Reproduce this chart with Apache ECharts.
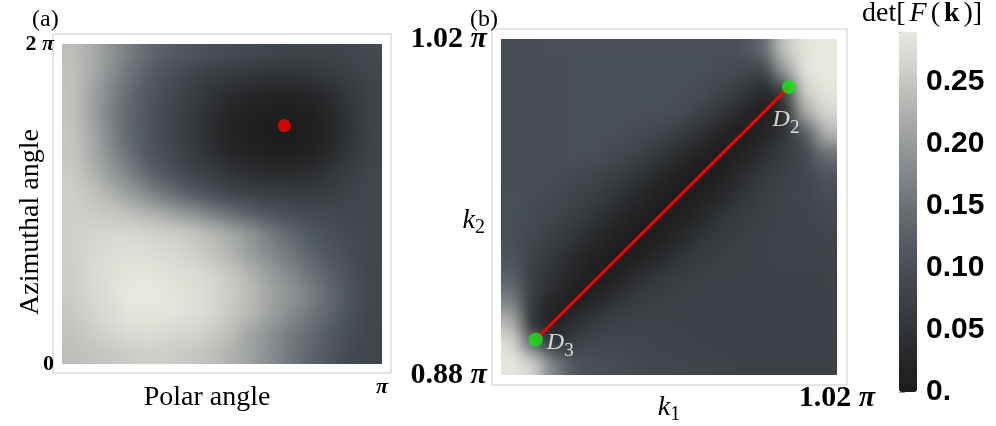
<!DOCTYPE html>
<html>
<head>
<meta charset="utf-8">
<script src="https://cdn.jsdelivr.net/npm/echarts@6/dist/echarts.min.js"></script>
<style>
  html, body { margin: 0; padding: 0; background: #fff; }
  #wrap { position: relative; width: 996px; height: 426px; }
  #maps, #marks { position: absolute; left: 0; top: 0; width: 996px; height: 426px; }
  /* the density maps are smoothed like the original raster plots, then cut to their frames */
  #maps {
    filter: url(#smooth);
    clip-path: path('M62 44 H382 V364 H62 Z M501 39 H837 V375 H501 Z');
  }
</style>
</head>
<body>
<svg width="0" height="0" style="position:absolute">
  <filter id="smooth" x="0" y="0" width="1" height="1" color-interpolation-filters="sRGB">
    <feGaussianBlur stdDeviation="8"/>
    <feComponentTransfer>
      <feFuncA type="table" tableValues="0 1 1 1 1 1 1 1 1 1 1 1 1 1 1 1 1 1 1 1"/>
    </feComponentTransfer>
  </filter>
</svg>
<div id="wrap">
  <div id="maps"></div>
  <div id="marks"></div>
</div>
<script>
// bin centres, in units of pi
var polarBins = [0.03, 0.09, 0.16, 0.22, 0.28, 0.34, 0.41, 0.47, 0.53, 0.59, 0.66, 0.72, 0.78, 0.84, 0.91, 0.97];
var azimuthBins = [0.06, 0.19, 0.31, 0.44, 0.56, 0.69, 0.81, 0.94, 1.06, 1.19, 1.31, 1.44, 1.56, 1.69, 1.81, 1.94];
var kBins = [0.884, 0.893, 0.902, 0.911, 0.919, 0.928, 0.937, 0.946, 0.954, 0.963, 0.972, 0.981, 0.989, 0.998, 1.007, 1.016];

// det[F(k)] of panel (a); first row is azimuth = 2 pi
var detSphere = [
  [0.24, 0.22, 0.19, 0.16, 0.135, 0.12, 0.11, 0.10, 0.095, 0.09, 0.085, 0.08, 0.08, 0.08, 0.085, 0.09],
  [0.245, 0.22, 0.18, 0.15, 0.12, 0.10, 0.085, 0.07, 0.06, 0.055, 0.05, 0.05, 0.055, 0.065, 0.075, 0.085],
  [0.245, 0.21, 0.17, 0.135, 0.11, 0.09, 0.07, 0.05, 0.035, 0.025, 0.02, 0.02, 0.025, 0.04, 0.06, 0.08],
  [0.245, 0.21, 0.165, 0.13, 0.105, 0.085, 0.06, 0.04, 0.02, 0.01, 0.005, 0.005, 0.01, 0.03, 0.055, 0.08],
  [0.25, 0.215, 0.17, 0.13, 0.105, 0.085, 0.06, 0.035, 0.015, 0.005, 0.0, 0.0, 0.005, 0.025, 0.05, 0.08],
  [0.25, 0.22, 0.18, 0.14, 0.11, 0.09, 0.065, 0.045, 0.025, 0.015, 0.01, 0.01, 0.015, 0.035, 0.06, 0.08],
  [0.255, 0.23, 0.2, 0.165, 0.13, 0.105, 0.085, 0.07, 0.05, 0.04, 0.035, 0.035, 0.04, 0.055, 0.07, 0.085],
  [0.26, 0.245, 0.225, 0.2, 0.17, 0.145, 0.12, 0.1, 0.085, 0.075, 0.07, 0.065, 0.065, 0.07, 0.08, 0.085],
  [0.26, 0.255, 0.25, 0.24, 0.225, 0.21, 0.19, 0.165, 0.145, 0.125, 0.11, 0.1, 0.09, 0.088, 0.085, 0.085],
  [0.26, 0.265, 0.27, 0.27, 0.265, 0.26, 0.25, 0.235, 0.215, 0.19, 0.16, 0.135, 0.115, 0.1, 0.09, 0.085],
  [0.26, 0.27, 0.275, 0.28, 0.275, 0.27, 0.26, 0.245, 0.225, 0.2, 0.175, 0.155, 0.13, 0.11, 0.095, 0.085],
  [0.255, 0.27, 0.28, 0.285, 0.285, 0.28, 0.275, 0.265, 0.25, 0.225, 0.2, 0.175, 0.15, 0.125, 0.1, 0.085],
  [0.255, 0.27, 0.28, 0.29, 0.29, 0.285, 0.28, 0.27, 0.255, 0.235, 0.21, 0.19, 0.165, 0.135, 0.105, 0.085],
  [0.25, 0.265, 0.275, 0.285, 0.285, 0.285, 0.28, 0.27, 0.25, 0.23, 0.205, 0.18, 0.155, 0.13, 0.1, 0.085],
  [0.245, 0.255, 0.265, 0.275, 0.275, 0.27, 0.265, 0.255, 0.235, 0.21, 0.185, 0.16, 0.14, 0.115, 0.095, 0.08],
  [0.24, 0.245, 0.25, 0.255, 0.26, 0.255, 0.25, 0.24, 0.225, 0.205, 0.18, 0.155, 0.13, 0.11, 0.09, 0.08]
];

// det[F(k)] of panel (b); first row is k2 = 1.02 pi
var detPlane = [
  [0.095, 0.097, 0.1, 0.1, 0.1, 0.1, 0.1, 0.1, 0.1, 0.1, 0.1, 0.105, 0.14, 0.25, 0.285, 0.29],
  [0.095, 0.097, 0.098, 0.1, 0.1, 0.1, 0.1, 0.1, 0.1, 0.1, 0.098, 0.09, 0.08, 0.2, 0.285, 0.29],
  [0.095, 0.097, 0.098, 0.1, 0.1, 0.1, 0.1, 0.1, 0.1, 0.095, 0.082, 0.06, 0.03, 0.07, 0.26, 0.285],
  [0.095, 0.097, 0.098, 0.1, 0.1, 0.1, 0.1, 0.1, 0.095, 0.078, 0.055, 0.028, 0.005, 0.035, 0.22, 0.27],
  [0.095, 0.097, 0.098, 0.1, 0.1, 0.1, 0.093, 0.085, 0.068, 0.045, 0.02, 0.003, 0.02, 0.05, 0.12, 0.23],
  [0.095, 0.097, 0.098, 0.1, 0.1, 0.09, 0.078, 0.06, 0.035, 0.015, 0.0, 0.015, 0.04, 0.068, 0.09, 0.15],
  [0.095, 0.097, 0.098, 0.09, 0.082, 0.07, 0.052, 0.03, 0.012, 0.0, 0.012, 0.035, 0.06, 0.075, 0.085, 0.11],
  [0.1, 0.095, 0.09, 0.08, 0.068, 0.05, 0.03, 0.012, 0.0, 0.012, 0.03, 0.052, 0.07, 0.08, 0.082, 0.095],
  [0.1, 0.093, 0.082, 0.068, 0.05, 0.03, 0.012, 0.0, 0.012, 0.03, 0.05, 0.065, 0.075, 0.078, 0.08, 0.088],
  [0.1, 0.088, 0.07, 0.05, 0.03, 0.012, 0.0, 0.012, 0.03, 0.05, 0.065, 0.073, 0.077, 0.078, 0.079, 0.082],
  [0.11, 0.075, 0.055, 0.032, 0.012, 0.0, 0.012, 0.032, 0.052, 0.065, 0.072, 0.076, 0.077, 0.078, 0.078, 0.078],
  [0.13, 0.07, 0.045, 0.018, 0.002, 0.018, 0.045, 0.06, 0.07, 0.075, 0.076, 0.077, 0.077, 0.077, 0.077, 0.077],
  [0.17, 0.06, 0.025, 0.003, 0.025, 0.05, 0.065, 0.072, 0.075, 0.076, 0.076, 0.076, 0.076, 0.076, 0.076, 0.076],
  [0.23, 0.045, 0.01, 0.04, 0.065, 0.075, 0.078, 0.078, 0.077, 0.076, 0.076, 0.076, 0.076, 0.076, 0.076, 0.076],
  [0.275, 0.14, 0.05, 0.075, 0.085, 0.085, 0.082, 0.08, 0.078, 0.077, 0.076, 0.075, 0.075, 0.075, 0.075, 0.075],
  [0.29, 0.265, 0.17, 0.11, 0.1, 0.095, 0.09, 0.085, 0.082, 0.08, 0.078, 0.077, 0.076, 0.075, 0.075, 0.075]
];

// marked points, in units of pi
var minimumPoint = [0.695, 1.49];
var diracPoints = [
  { name: 'D3', k: [0.8945, 0.8948] },
  { name: 'D2', k: [1.0, 1.0] }
];

var grayTones = ['#1c1c1c', '#27282a', '#35393d', '#42474e', '#525860', '#676e73',
  '#80868a', '#999d9c', '#b5b7b3', '#d0d1cb', '#e8e8e0'];

var SERIF = 'Liberation Serif';
// image areas of the two panels; whole-pixel cells (20 and 21 px)
var rectA = { left: 62, top: 44, width: 320, height: 320, outerBoundsMode: 'none' };
var rectB = { left: 501, top: 39, width: 336, height: 336, outerBoundsMode: 'none' };

function toCells(rows) {
  var n = rows.length;
  var out = [];
  rows.forEach(function(row, r) {
    row.forEach(function(v, i) {
      out.push([i, n - 1 - r, v]);
    });
  });
  return out;
}

function piLabel(size) {
  return {
    n: { fontFamily: SERIF, fontWeight: 'bold', fontSize: size, color: '#000' },
    p: { fontFamily: SERIF, fontWeight: 'bold', fontStyle: 'italic', fontSize: size, color: '#000' }
  };
}

function subRich(size, sub, lh) {
  return {
    k: { fontFamily: SERIF, fontStyle: 'italic', fontSize: size, lineHeight: lh, color: '#000' },
    s: { fontFamily: SERIF, fontSize: sub, lineHeight: sub, verticalAlign: 'bottom', color: '#000' }
  };
}

function heatmap(xi, yi, rows) {
  return {
    type: 'heatmap', xAxisIndex: xi, yAxisIndex: yi,
    data: rows ? toCells(rows) : [],
    emphasis: { disabled: true }, silent: true
  };
}

var scale = {
  type: 'continuous', min: 0, max: 0.29, seriesIndex: [0, 1],
  inRange: { color: grayTones }
};

var hidden = { show: false };

// layer 1: the two density maps (smoothed by the css filter above)
var mapChart = echarts.init(document.getElementById('maps'));
mapChart.setOption({
  animation: false,
  grid: [rectA, rectB],
  xAxis: [
    { gridIndex: 0, type: 'category', data: polarBins.map(String), show: false },
    { gridIndex: 1, type: 'category', data: kBins.map(String), show: false }
  ],
  yAxis: [
    { gridIndex: 0, type: 'category', data: azimuthBins.map(String), show: false },
    { gridIndex: 1, type: 'category', data: kBins.map(String), show: false }
  ],
  visualMap: Object.assign({ show: false }, scale),
  series: [heatmap(0, 0, detSphere), heatmap(1, 1, detPlane)]
});

// layer 2: frames, axes, labels, markers and the colour bar
var chart = echarts.init(document.getElementById('marks'));
chart.setOption({
  animation: false,
  grid: [
    { left: 53, top: 34, width: 338, height: 339, show: true, borderColor: '#c8c8c8', borderWidth: 1, outerBoundsMode: 'none' },
    rectA,
    { left: 492, top: 29, width: 355, height: 356, show: true, borderColor: '#c8c8c8', borderWidth: 1, outerBoundsMode: 'none' },
    rectB,
    { left: 899, top: 32, width: 18, height: 360, outerBoundsMode: 'none' }
  ],
  xAxis: [
    { gridIndex: 0, type: 'value', show: false },
    { gridIndex: 1, type: 'category', data: polarBins.map(String), show: false },
    {
      gridIndex: 1, type: 'value', min: 0, max: 1, position: 'bottom',
      axisLine: hidden, axisTick: hidden, splitLine: hidden,
      axisLabel: {
        customValues: [1], margin: 12, rich: piLabel(22),
        formatter: function() { return '{p|π}'; }
      },
      name: 'Polar angle', nameLocation: 'middle', nameGap: 20, nameMoveOverlap: false,
      nameTextStyle: { fontFamily: SERIF, fontSize: 28, color: '#000', padding: [0, 30, 0, 0] }
    },
    { gridIndex: 2, type: 'value', show: false },
    { gridIndex: 3, type: 'category', data: kBins.map(String), show: false },
    {
      gridIndex: 3, type: 'value', min: 0.88, max: 1.02, position: 'bottom',
      axisLine: hidden, axisTick: hidden, splitLine: hidden,
      axisLabel: {
        customValues: [1.02], margin: 8, rich: piLabel(30),
        formatter: function(v) { return '{n|' + v.toFixed(2) + ' }{p|π}'; }
      },
      name: '{k|k}{s|1}', nameLocation: 'middle', nameGap: 16, nameMoveOverlap: false,
      nameTextStyle: { rich: subRich(28, 20, 34) }
    },
    { gridIndex: 4, type: 'value', show: false }
  ],
  yAxis: [
    { gridIndex: 0, type: 'value', show: false },
    { gridIndex: 1, type: 'category', data: azimuthBins.map(String), show: false },
    {
      gridIndex: 1, type: 'value', min: 0, max: 2, position: 'left',
      axisLine: hidden, axisTick: hidden, splitLine: hidden,
      axisLabel: {
        customValues: [0, 2], margin: 8, rich: piLabel(22),
        formatter: function(v) { return v === 0 ? '{n|0}' : '{n|2 }{p|π}'; }
      },
      name: 'Azimuthal angle', nameLocation: 'middle', nameGap: 17, nameMoveOverlap: false,
      nameTextStyle: { fontFamily: SERIF, fontSize: 28, color: '#000', padding: [0, 36, 0, 0] }
    },
    { gridIndex: 2, type: 'value', show: false },
    { gridIndex: 3, type: 'category', data: kBins.map(String), show: false },
    {
      gridIndex: 3, type: 'value', min: 0.88, max: 1.02, position: 'left',
      axisLine: hidden, axisTick: hidden, splitLine: hidden,
      axisLabel: {
        customValues: [0.88, 1.02], margin: 14, rich: piLabel(30),
        formatter: function(v) { return '{n|' + v.toFixed(2) + ' }{p|π}'; }
      },
      name: '{k|k}{s|2}', nameLocation: 'middle', nameGap: 16, nameRotate: 0, nameMoveOverlap: false,
      nameTextStyle: { rich: subRich(28, 20, 34), padding: [28, 0, 0, 0] }
    },
    {
      gridIndex: 4, type: 'value', min: 0, max: 0.29, interval: 0.05, position: 'right',
      axisLine: hidden, splitLine: hidden,
      axisTick: { show: true, length: 6, lineStyle: { color: '#999' } },
      minorTick: { show: true, splitNumber: 5, length: 4, lineStyle: { color: '#aaa' } },
      axisLabel: {
        margin: 9, showMaxLabel: false,
        fontFamily: 'Liberation Sans', fontWeight: 'bold', fontSize: 30, color: '#000',
        formatter: function(v) { return v === 0 ? '0.' : v.toFixed(2); }
      }
    }
  ],
  visualMap: Object.assign({
    left: 899, top: 32, itemWidth: 18, itemHeight: 360, padding: 0,
    calculable: false, hoverLink: false
  }, scale),
  graphic: [
    { type: 'text', left: 32, top: 8, style: { text: '(a)', font: '24px "Liberation Serif"', fill: '#000' } },
    { type: 'text', left: 470, top: 8, style: { text: '(b)', font: '24px "Liberation Serif"', fill: '#000' } },
    {
      type: 'text', left: 862, top: 0,
      style: {
        text: '{a|det[}{f|F}{a|(}{b|k}{a|)]}',
        rich: {
          a: { fontFamily: SERIF, fontSize: 28, fill: '#000' },
          f: { fontFamily: SERIF, fontSize: 28, fontStyle: 'italic', fill: '#000', padding: [0, 4, 0, 4] },
          b: { fontFamily: SERIF, fontSize: 28, fontWeight: 'bold', fill: '#000', padding: [0, 4, 0, 4] }
        }
      }
    }
  ],
  series: [
    heatmap(1, 1, null),
    heatmap(4, 4, null),
    {
      type: 'scatter', xAxisIndex: 2, yAxisIndex: 2, z: 4,
      symbolSize: 13, itemStyle: { color: '#ff0000' },
      data: [minimumPoint], silent: true
    },
    {
      type: 'line', xAxisIndex: 5, yAxisIndex: 5, z: 3,
      showSymbol: false, lineStyle: { color: '#f00', width: 3 },
      data: diracPoints.map(function(p) { return p.k; }), silent: true
    },
    {
      type: 'scatter', xAxisIndex: 5, yAxisIndex: 5, z: 4,
      symbolSize: 14, itemStyle: { color: '#14e614' }, silent: true,
      label: {
        show: true, color: '#fff',
        formatter: function(p) { return '{d|D}{s|' + p.name.slice(1) + '}'; },
        rich: {
          d: { fontFamily: SERIF, fontStyle: 'italic', fontSize: 24, lineHeight: 36, color: '#fff' },
          s: { fontFamily: SERIF, fontSize: 19, lineHeight: 19, verticalAlign: 'bottom', color: '#fff' }
        }
      },
      data: diracPoints.map(function(p) {
        var below = p.name === 'D2';
        return {
          name: p.name, value: p.k,
          label: below ? { position: 'bottom', distance: 8, offset: [-3, 0] }
                       : { position: 'right', distance: 4, offset: [0, 3] }
        };
      })
    }
  ]
});
</script>
</body>
</html>
